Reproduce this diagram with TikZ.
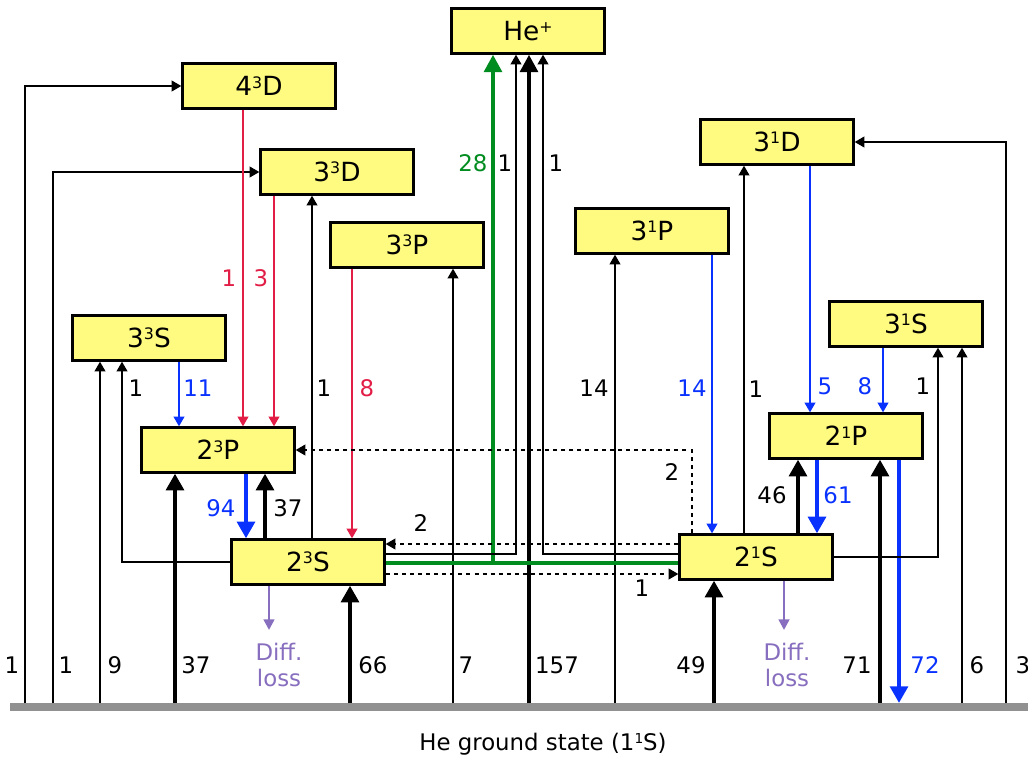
\documentclass[tikz,border=0pt]{standalone}
\usepackage{fontspec}
\setmainfont{DejaVu Sans}
\usepackage{tikz}
\usetikzlibrary{arrows.meta, calc}
\definecolor{boxyellow}{RGB}{255,251,128}
\definecolor{myred}{RGB}{226,30,70}
\definecolor{myblue}{RGB}{10,50,255}
\definecolor{mygreen}{RGB}{0,140,30}
\definecolor{mypurple}{RGB}{135,110,190}
\definecolor{mygray}{RGB}{145,145,145}
\newcommand{\upidx}[1]{\raisebox{0.29em}{\scalebox{0.6}{#1}}}
\tikzset{
  level/.style={rectangle, draw=black, fill=boxyellow, line width=1.3pt,
    minimum width=3.06cm, minimum height=0.9cm, inner sep=0pt,
    font=\fontsize{15}{18}\selectfont},
  lbl/.style={font=\fontsize{13}{15}\selectfont, inner sep=0pt},
  thinarrow/.style={-{Stealth[inset=0pt, length=5.5pt, width=6pt]}, line width=1.1pt},
  thickarrow/.style={-{Stealth[inset=0pt, length=9.5pt, width=10pt]}, line width=2.4pt},
  dasharrow/.style={-{Stealth[inset=0pt, length=5.5pt, width=6pt]}, line width=1.1pt,
    dash pattern=on 2.3pt off 2.3pt},
  difarrow/.style={-{Stealth[inset=0pt, length=6pt, width=6pt]}, line width=1.4pt, color=mypurple}
}
\begin{document}
\begin{tikzpicture}[x=0.02cm, y=-0.02cm]
  \useasboundingbox (0,0) rectangle (1028,758);

  % Ground state
  \draw[line width=0.16cm, color=mygray] (10,707) -- (1028,707);
  \node[lbl] (ground) at (543,744) {He ground state (1\upidx{1}S)};

  % Levels
  \node[level] (nHe) at (528,31) {He\upidx{+}};
  \node[level] (n43D) at (259,86) {4\upidx{3}D};
  \node[level] (n33D) at (337,172) {3\upidx{3}D};
  \node[level] (n33P) at (407,245) {3\upidx{3}P};
  \node[level] (n33S) at (149,338) {3\upidx{3}S};
  \node[level] (n23P) at (218,450) {2\upidx{3}P};
  \node[level] (n23S) at (308,562) {2\upidx{3}S};
  \node[level] (n31D) at (777,142) {3\upidx{1}D};
  \node[level] (n31P) at (652,231) {3\upidx{1}P};
  \node[level] (n31S) at (906,324) {3\upidx{1}S};
  \node[level] (n21P) at (846,436) {2\upidx{1}P};
  \node[level] (n21S) at (756,557) {2\upidx{1}S};

  % Excitation from the ground state
  \coordinate (g1) at (25,703);
  \coordinate (g2) at (53,703);
  \coordinate (g3) at (100,703);
  \coordinate (g4) at (175,703);
  \coordinate (g5) at (350,703);
  \coordinate (g6) at (453,703);
  \coordinate (g7) at (529,703);
  \coordinate (g8) at (615,703);
  \coordinate (g9) at (714,703);
  \coordinate (g10) at (880,703);
  \coordinate (g11) at (899,703);
  \coordinate (g12) at (962,703);
  \coordinate (g13) at (1006,703);

  \draw[thinarrow] (g1) |- (n43D.west);
  \draw[thinarrow] (g2) |- (n33D.west);
  \draw[thinarrow] (g3) -- (g3 |- n33S.south);
  \draw[thickarrow] (g4) -- (g4 |- n23P.south);
  \draw[thickarrow] (g5) -- (g5 |- n23S.south);
  \draw[thinarrow] (g6) -- (g6 |- n33P.south);
  \draw[-{Stealth[inset=0pt, length=10pt, width=10pt]}, line width=2.8pt] (g7) -- (g7 |- nHe.south);
  \draw[thinarrow] (g8) -- (g8 |- n31P.south);
  \draw[thickarrow] (g9) -- (g9 |- n21S.south);
  \draw[thickarrow] (g10) -- (g10 |- n21P.south);
  \draw[thickarrow, color=myblue] (g11 |- n21P.south) -- (g11);
  \draw[thinarrow] (g12) -- (g12 |- n31S.south);
  \draw[thinarrow] (g13) |- (n31D.east);

  % Ionisation
  \draw[line width=2.6pt, color=mygreen] (n23S.east |- 0,563) -- (n21S.west |- 0,563);
  \draw[-{Stealth[inset=0pt, length=10pt, width=10pt]}, line width=2.6pt, color=mygreen]
    (493,563) -- (nHe.south -| 493,0);
  \draw[thinarrow] (n23S.east |- 0,554) -| (nHe.south -| 516,0);
  \draw[thinarrow] (n21S.west |- 0,554) -| (nHe.south -| 543,0);

  % Triplet system
  \draw[thinarrow, color=myred] (243,0 |- n43D.south) -- (243,0 |- n23P.north);
  \draw[thinarrow, color=myred] (274,0 |- n33D.south) -- (274,0 |- n23P.north);
  \draw[thinarrow, color=myred] (352,0 |- n33P.south) -- (352,0 |- n23S.north);
  \draw[thinarrow] (312,0 |- n23S.north) -- (312,0 |- n33D.south);
  \draw[thinarrow] (n23S.west) -| (122,0 |- n33S.south);
  \draw[thinarrow, color=myblue] (179,0 |- n33S.south) -- (179,0 |- n23P.north);
  \draw[thickarrow, color=myblue] (246,0 |- n23P.south) -- (246,0 |- n23S.north);
  \draw[thickarrow] (265,0 |- n23S.north) -- (265,0 |- n23P.south);

  % Singlet system
  \draw[thinarrow, color=myblue] (712,0 |- n31P.south) -- (712,0 |- n21S.north);
  \draw[thinarrow] (744,0 |- n21S.north) -- (744,0 |- n31D.south);
  \draw[thinarrow, color=myblue] (810,0 |- n31D.south) -- (810,0 |- n21P.north);
  \draw[thinarrow, color=myblue] (883,0 |- n31S.south) -- (883,0 |- n21P.north);
  \draw[thinarrow] (n21S.east) -| (938,0 |- n31S.south);
  \draw[thickarrow] (798,0 |- n21S.north) -- (798,0 |- n21P.south);
  \draw[thickarrow, color=myblue] (817,0 |- n21P.south) -- (817,0 |- n21S.north);

  % Exchange between singlets and triplets
  \draw[dasharrow] (692,0 |- n21S.north) |- (n23P.east);
  \draw[dasharrow] (n21S.west |- 0,544) -- (n23S.east |- 0,544);
  \draw[dasharrow] (n23S.east |- 0,574) -- (n21S.west |- 0,574);

  % Diffusion loss
  \coordinate (dl1) at (269,630);
  \coordinate (dl2) at (784,630);
  \draw[difarrow] (dl1 |- n23S.south) -- (dl1);
  \draw[difarrow] (dl2 |- n21S.south) -- (dl2);
  \node[lbl, color=mypurple, align=center] (loss1) at (279,665) {Diff.\\loss};
  \node[lbl, color=mypurple, align=center] (loss2) at (787,665) {Diff.\\loss};

  % Rates
  \node[lbl] (r1) at (12,665) {1};
  \node[lbl] (r2) at (66,665) {1};
  \node[lbl] (r3) at (115,665) {9};
  \node[lbl] (r4) at (196,665) {37};
  \node[lbl] (r5) at (373,665) {66};
  \node[lbl] (r6) at (466,665) {7};
  \node[lbl] (r7) at (557,665) {157};
  \node[lbl] (r8) at (691,665) {49};
  \node[lbl] (r9) at (857,665) {71};
  \node[lbl, color=myblue] (r10) at (925,665) {72};
  \node[lbl] (r11) at (977,665) {6};
  \node[lbl] (r12) at (1023,665) {3};

  \node[lbl, color=mygreen] (r13) at (473,163) {28};
  \node[lbl] (r14) at (505,163) {1};
  \node[lbl] (r15) at (556,163) {1};

  \node[lbl, color=myred] (r16) at (229,278) {1};
  \node[lbl, color=myred] (r17) at (261,278) {3};
  \node[lbl] (r18) at (136,388) {1};
  \node[lbl, color=myblue] (r19) at (198,388) {11};
  \node[lbl] (r20) at (324,388) {1};
  \node[lbl, color=myred] (r21) at (367,388) {8};
  \node[lbl, color=myblue] (r22) at (221,508) {94};
  \node[lbl] (r23) at (288,508) {37};
  \node[lbl] (r24) at (421,523) {2};

  \node[lbl] (r25) at (594,388) {14};
  \node[lbl, color=myblue] (r26) at (692,388) {14};
  \node[lbl] (r27) at (756,389) {1};
  \node[lbl, color=myblue] (r28) at (825,386) {5};
  \node[lbl, color=myblue] (r29) at (865,386) {8};
  \node[lbl] (r30) at (923,386) {1};
  \node[lbl] (r31) at (672,472) {2};
  \node[lbl] (r32) at (772,495) {46};
  \node[lbl, color=myblue] (r33) at (838,495) {61};
  \node[lbl] (r34) at (642,588) {1};
\end{tikzpicture}
\end{document}
